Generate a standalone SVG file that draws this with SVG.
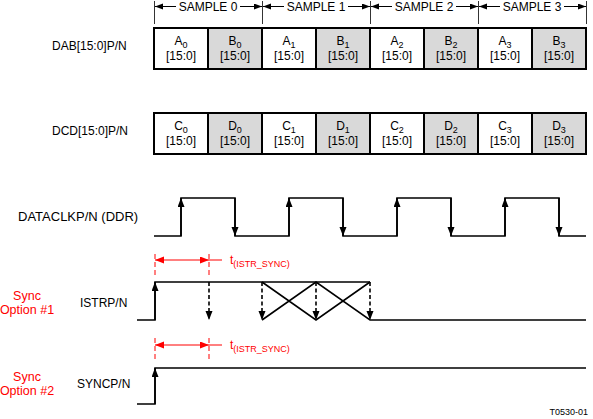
<svg xmlns="http://www.w3.org/2000/svg" width="593" height="419" viewBox="0 0 593 419">
<style>
text{font-family:"Liberation Sans",Arial,sans-serif;font-size:12px;fill:#000}
.c{text-anchor:middle}
.red{fill:#ff0000}
.sub{font-size:9px}
.box{stroke:#000;stroke-width:2}
.w{fill:#fff}.g{fill:#d9d9d9}
.wave{fill:none;stroke:#000;stroke-width:1.6}
.dash{fill:none;stroke:#000;stroke-width:1.6;stroke-dasharray:4,2.5}
.rl{fill:none;stroke:#ff0000;stroke-width:1}
.rd{fill:none;stroke:#ff0000;stroke-width:1;stroke-dasharray:5,3}
.tk{stroke:#000;stroke-width:0.8}
</style>
<defs>
<marker id="ah" markerUnits="userSpaceOnUse" markerWidth="10" markerHeight="8" refX="9" refY="3.5" orient="auto"><path d="M0,0 L9,3.5 L0,7 z" fill="#000"/></marker>
<marker id="ahs" markerUnits="userSpaceOnUse" markerWidth="10" markerHeight="8" refX="8" refY="3" orient="auto"><path d="M0,0 L8,3 L0,6 z" fill="#000"/></marker>
<marker id="ahr" markerUnits="userSpaceOnUse" markerWidth="10" markerHeight="8" refX="9" refY="3.5" orient="auto"><path d="M0,0 L9,3.5 L0,7 z" fill="#ff0000"/></marker>
</defs>

<g id="labels">
<text x="52" y="50">DAB[15:0]P/N</text>
<text x="52" y="135">DCD[15:0]P/N</text>
<text x="18" y="221" style="font-size:13px">DATACLKP/N (DDR)</text>
<text x="80" y="307">ISTRP/N</text>
<text x="77" y="388">SYNCP/N</text>
<text class="c red" x="27" y="300" style="font-size:12.5px">Sync</text>
<text class="c red" x="27" y="314" style="font-size:12.5px">Option #1</text>
<text class="c red" x="27" y="381" style="font-size:12.5px">Sync</text>
<text class="c red" x="27" y="395" style="font-size:12.5px">Option #2</text>
<text x="588" y="415" style="font-size:9px;text-anchor:end">T0530-01</text>
</g>

<g id="sample-axis">
<g class="tk">
<line x1="154.5" y1="1" x2="154.5" y2="24"/><line x1="262.5" y1="1" x2="262.5" y2="24"/><line x1="370.5" y1="1" x2="370.5" y2="24"/><line x1="478.5" y1="1" x2="478.5" y2="24"/><line x1="586.5" y1="1" x2="586.5" y2="24"/>
</g>
<g stroke="#000" stroke-width="1">
<line x1="176" y1="6.5" x2="155" y2="6.5" marker-end="url(#ahs)"/><line x1="240" y1="6.5" x2="262" y2="6.5" marker-end="url(#ahs)"/>
<line x1="284" y1="6.5" x2="263" y2="6.5" marker-end="url(#ahs)"/><line x1="348" y1="6.5" x2="370" y2="6.5" marker-end="url(#ahs)"/>
<line x1="392" y1="6.5" x2="371" y2="6.5" marker-end="url(#ahs)"/><line x1="456" y1="6.5" x2="478" y2="6.5" marker-end="url(#ahs)"/>
<line x1="500" y1="6.5" x2="479" y2="6.5" marker-end="url(#ahs)"/><line x1="564" y1="6.5" x2="586" y2="6.5" marker-end="url(#ahs)"/>
</g>
<text class="c" x="208" y="11">SAMPLE 0</text>
<text class="c" x="316" y="11">SAMPLE 1</text>
<text class="c" x="424" y="11">SAMPLE 2</text>
<text class="c" x="532" y="11">SAMPLE 3</text>
</g>

<g id="dab">
<rect class="box w" x="154" y="28" width="54" height="41"/>
<rect class="box g" x="208" y="28" width="54" height="41"/>
<rect class="box w" x="262" y="28" width="54" height="41"/>
<rect class="box g" x="316" y="28" width="54" height="41"/>
<rect class="box w" x="370" y="28" width="54" height="41"/>
<rect class="box g" x="424" y="28" width="54" height="41"/>
<rect class="box w" x="478" y="28" width="54" height="41"/>
<rect class="box g" x="532" y="28" width="54" height="41"/>
<text class="c" x="181" y="45">A<tspan class="sub" dy="3">0</tspan></text>
<text class="c" x="235" y="45">B<tspan class="sub" dy="3">0</tspan></text>
<text class="c" x="289" y="45">A<tspan class="sub" dy="3">1</tspan></text>
<text class="c" x="343" y="45">B<tspan class="sub" dy="3">1</tspan></text>
<text class="c" x="397" y="45">A<tspan class="sub" dy="3">2</tspan></text>
<text class="c" x="451" y="45">B<tspan class="sub" dy="3">2</tspan></text>
<text class="c" x="505" y="45">A<tspan class="sub" dy="3">3</tspan></text>
<text class="c" x="559" y="45">B<tspan class="sub" dy="3">3</tspan></text>
<text class="c" x="181" y="60">[15:0]</text><text class="c" x="235" y="60">[15:0]</text><text class="c" x="289" y="60">[15:0]</text><text class="c" x="343" y="60">[15:0]</text>
<text class="c" x="397" y="60">[15:0]</text><text class="c" x="451" y="60">[15:0]</text><text class="c" x="505" y="60">[15:0]</text><text class="c" x="559" y="60">[15:0]</text>
</g>

<g id="dcd">
<rect class="box w" x="154" y="113" width="54" height="41"/>
<rect class="box g" x="208" y="113" width="54" height="41"/>
<rect class="box w" x="262" y="113" width="54" height="41"/>
<rect class="box g" x="316" y="113" width="54" height="41"/>
<rect class="box w" x="370" y="113" width="54" height="41"/>
<rect class="box g" x="424" y="113" width="54" height="41"/>
<rect class="box w" x="478" y="113" width="54" height="41"/>
<rect class="box g" x="532" y="113" width="54" height="41"/>
<text class="c" x="181" y="130">C<tspan class="sub" dy="3">0</tspan></text>
<text class="c" x="235" y="130">D<tspan class="sub" dy="3">0</tspan></text>
<text class="c" x="289" y="130">C<tspan class="sub" dy="3">1</tspan></text>
<text class="c" x="343" y="130">D<tspan class="sub" dy="3">1</tspan></text>
<text class="c" x="397" y="130">C<tspan class="sub" dy="3">2</tspan></text>
<text class="c" x="451" y="130">D<tspan class="sub" dy="3">2</tspan></text>
<text class="c" x="505" y="130">C<tspan class="sub" dy="3">3</tspan></text>
<text class="c" x="559" y="130">D<tspan class="sub" dy="3">3</tspan></text>
<text class="c" x="181" y="145">[15:0]</text><text class="c" x="235" y="145">[15:0]</text><text class="c" x="289" y="145">[15:0]</text><text class="c" x="343" y="145">[15:0]</text>
<text class="c" x="397" y="145">[15:0]</text><text class="c" x="451" y="145">[15:0]</text><text class="c" x="505" y="145">[15:0]</text><text class="c" x="559" y="145">[15:0]</text>
</g>

<g id="dataclk">
<polyline class="wave" points="154,236 181,236 181,198 235,198 235,236 289,236 289,198 343,198 343,236 397,236 397,198 451,198 451,236 505,236 505,198 559,198 559,236 586,236"/>
<g class="wave">
<path d="M181,236 V198" marker-end="url(#ah)"/><path d="M289,236 V198" marker-end="url(#ah)"/><path d="M397,236 V198" marker-end="url(#ah)"/><path d="M505,236 V198" marker-end="url(#ah)"/>
<path d="M235,198 V236" marker-end="url(#ah)"/><path d="M343,198 V236" marker-end="url(#ah)"/><path d="M451,198 V236" marker-end="url(#ah)"/><path d="M559,198 V236" marker-end="url(#ah)"/>
</g>
</g>

<g id="istr">
<polyline class="wave" points="137,320 155,320 155,282 370,282"/>
<path class="wave" d="M155,320 V282" marker-end="url(#ah)"/>
<path class="wave" d="M262,282 L316,320 L370,282 M262,320 L316,282 L370,320 H586"/>
<path class="dash" d="M209,282 V320" marker-end="url(#ah)"/>
<path class="dash" d="M262,282 V320" marker-end="url(#ah)"/>
<path class="dash" d="M316,282 V320" marker-end="url(#ah)"/>
<path class="dash" d="M370,282 V320" marker-end="url(#ah)"/>
</g>

<g id="timing1">
<line class="rd" x1="155" y1="254" x2="155" y2="276"/>
<line class="rd" x1="209" y1="254" x2="209" y2="276"/>
<path class="rl" d="M182,260 H155" marker-end="url(#ahr)"/>
<path class="rl" d="M182,260 H209" marker-end="url(#ahr)"/>
<path class="rl" d="M209,260 H222"/>
<text class="red" x="230" y="264">t<tspan class="sub" dy="3">(ISTR_SYNC)</tspan></text>
</g>

<g id="sync">
<polyline class="wave" points="137,404 155,404 155,368 586,368"/>
<path class="wave" d="M155,404 V368" marker-end="url(#ah)"/>
</g>

<g id="timing2">
<line class="rd" x1="155" y1="338" x2="155" y2="360"/>
<line class="rd" x1="209" y1="338" x2="209" y2="360"/>
<path class="rl" d="M182,345 H155" marker-end="url(#ahr)"/>
<path class="rl" d="M182,345 H209" marker-end="url(#ahr)"/>
<path class="rl" d="M209,345 H222"/>
<text class="red" x="230" y="349">t<tspan class="sub" dy="3">(ISTR_SYNC)</tspan></text>
</g>
</svg>
